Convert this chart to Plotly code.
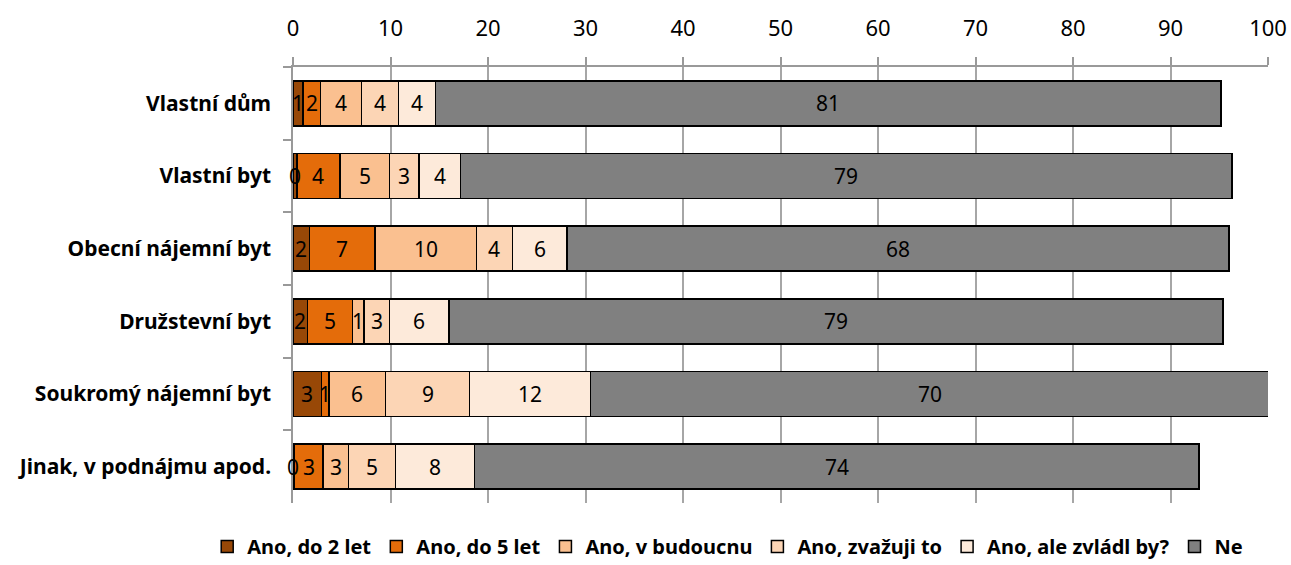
import plotly.graph_objects as go

categories = ["Vlastní dům", "Vlastní byt", "Obecní nájemní byt", "Družstevní byt",
              "Soukromý nájemní byt", "Jinak, v podnájmu apod."]

series_names = ["Ano, do 2 let", "Ano, do 5 let", "Ano, v budoucnu",
                "Ano, zvažuji to", "Ano, ale zvládl by?", "Ne"]

ano_do_2_let = [1.0, 0.4, 1.7, 1.5, 2.9, 0.1]
ano_do_5_let = [1.8, 4.4, 6.7, 4.6, 0.8, 3.0]
ano_v_budoucnu = [4.2, 5.1, 10.4, 1.2, 5.8, 2.6]
ano_zvazuji = [3.8, 3.0, 3.7, 2.6, 8.6, 4.8]
ano_ale_zvladl = [3.8, 4.3, 5.6, 6.1, 12.4, 8.1]
ne = [80.6, 79.1, 67.9, 79.4, 69.6, 74.3]

series_values = [ano_do_2_let, ano_do_5_let, ano_v_budoucnu, ano_zvazuji, ano_ale_zvladl, ne]
colors = ["#984807", "#E46C0A", "#FAC090", "#FCD5B5", "#FDEADA", "#808080"]

x_ticks = [0, 10, 20, 30, 40, 50, 60, 70, 80, 90, 100]

FONT = "Noto Sans"

fig = go.Figure()
for name, vals, col in zip(series_names, series_values, colors):
    fig.add_trace(go.Bar(
        name=name, y=categories, x=vals, orientation="h",
        marker=dict(color=col, line=dict(color="#000000", width=1.5)),
        hoverinfo="x+y+name",
    ))

# data labels at the centre of each stacked segment
annotations = []
for i, cat in enumerate(categories):
    start = 0.0
    for vals in series_values:
        v = vals[i]
        annotations.append(dict(
            x=start + v / 2, y=cat, xref="x", yref="y", text=f"{v:.0f}",
            showarrow=False, font=dict(family=FONT, size=21, color="#000000"),
        ))
        start += v

fig.update_layout(
    barmode="stack", bargap=0.38,
    width=1291, height=565,
    margin=dict(l=293, r=23, t=67, b=62, autoexpand=False),
    paper_bgcolor="white", plot_bgcolor="white",
    font=dict(family=FONT, color="#000000"),
    annotations=annotations,
    legend=dict(orientation="h", x=-0.088, xanchor="left", y=-0.1, yanchor="middle",
                font=dict(family=FONT, size=20, color="#000000", weight="bold"),
                traceorder="normal", itemwidth=30),
    xaxis=dict(side="top", range=[0, 100], tickvals=x_ticks, ticks="outside", ticklen=8,
               tickcolor="#999999", tickwidth=1.5, automargin=False, ticklabelstandoff=12,
               showline=True, linecolor="#999999", linewidth=1.5,
               showgrid=True, gridcolor="#a6a6a6", gridwidth=1.5,
               tickfont=dict(family=FONT, size=22, color="#000000"), zeroline=False),
    yaxis=dict(autorange="reversed", showline=True, linecolor="#999999", linewidth=1.5,
               ticks="outside", tickson="boundaries", ticklen=8, tickcolor="#999999", tickwidth=1.5,
               automargin=False, ticklabelstandoff=16,
               tickfont=dict(family=FONT, size=21, color="#000000", weight="bold"),
               showgrid=False),
)

fig.write_html("out.html", config={"displayModeBar": False},
               post_script="document.body.style.margin='0';")
